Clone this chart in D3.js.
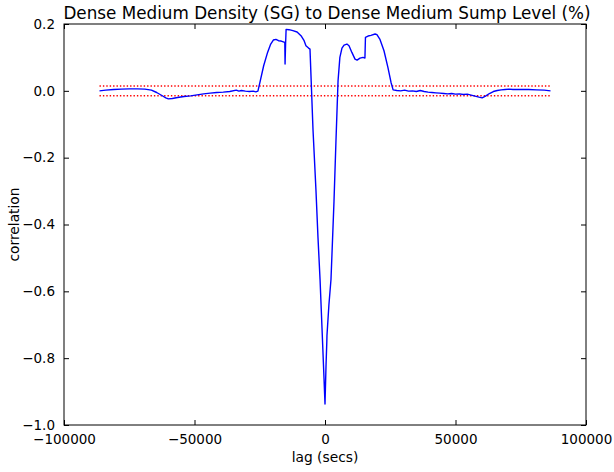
<!DOCTYPE html>
<html lang="en">
  <head>
    <meta charset="UTF-8" />
    <title>Cross correlation</title>
    <style>
      body { margin: 0; background: #fff; }
      svg text { font-family: "DejaVu Sans", sans-serif; fill: #000; }
    </style>
  </head>
  <body>
    <div class="chart"></div>
    <script src="https://d3js.org/d3.v7.min.js"></script>
    <script>
      // lag (secs) and correlation
      const lags = [
        -86400, -84000, -81000, -78000, -75000, -72000, -69000, -66500, -64500, -62500,
        -61000, -60000, -58500, -56500, -54000, -51500, -49000, -46500, -44000, -41500,
        -39000, -36500, -34000, -33000, -32000, -30500, -29000, -27500, -26500, -25700,
        -24800, -23500, -22000, -20800, -19800, -18800, -17800, -16800, -15700, -15400,
        -15300, -15100, -14900, -13800, -12300, -10700, -9200, -8000, -7300, -6300,
        -5750, -4600, -3450, -2680, -1900, -1150, -380, 0, 400, 700,
        750, 1500, 2300, 3450, 4200, 4600, 5000, 5700, 6500, 7300,
        8400, 9200, 10300, 11500, 12300, 13400, 14600, 15300, 15500, 16500,
        17600, 19200, 19900, 21000, 22600, 24100, 25300, 26100, 27500, 29000,
        30500, 32000, 33500, 35000, 36500, 38000, 39500, 41000, 42500, 44000,
        45500, 47000, 48500, 50000, 51500, 53000, 54500, 56000, 57500, 59000,
        60200, 61500, 63000, 64500, 66000, 67500, 69000, 70500, 72000, 75000,
        78000, 81000, 84000, 86400
      ];
      const corr = [
        0.000, 0.002, 0.004, 0.005, 0.006, 0.006, 0.005, 0.002, -0.005, -0.014,
        -0.021, -0.024, -0.023, -0.020, -0.017, -0.015, -0.012, -0.009, -0.007, -0.005,
        -0.004, -0.002, 0.002, -0.001, 0.001, -0.001, -0.002, -0.001, -0.003, -0.001,
        0.030, 0.075, 0.115, 0.140, 0.152, 0.154, 0.150, 0.149, 0.146, 0.145,
        0.080, 0.140, 0.184, 0.183, 0.180, 0.176, 0.165, 0.150, 0.135, 0.128,
        0.125, -0.116, -0.300, -0.440, -0.564, -0.710, -0.860, -0.937, -0.820, -0.750,
        -0.733, -0.640, -0.564, -0.330, -0.150, -0.060, 0.030, 0.100, 0.128, 0.137,
        0.140, 0.135, 0.115, 0.095, 0.092, 0.098, 0.100, 0.098, 0.160, 0.164,
        0.166, 0.170, 0.168, 0.155, 0.120, 0.070, 0.025, 0.003, 0.001, 0.000,
        0.002, -0.001, 0.000, -0.002, 0.001, -0.002, -0.004, -0.005, -0.006, -0.007,
        -0.008, -0.009, -0.008, -0.010, -0.009, -0.011, -0.010, -0.013, -0.016, -0.019,
        -0.021, -0.016, -0.008, -0.002, 0.001, 0.003, 0.004, 0.005, 0.004, 0.004,
        0.004, 0.003, 0.002, 0.000
      ];
      // confidence band (dotted red)
      const bandLags = [-86400, 86400];
      const bandLevels = [0.0145, -0.0145];

      const xTicks = [-100000, -50000, 0, 50000, 100000];
      const yTicks = [0.2, 0.0, -0.2, -0.4, -0.6, -0.8, -1.0];

      const drawChart = () => {
        const width = 614;
        const height = 472;
        const left = 64, right = 586, top = 24, bottom = 425;

        const svg = d3
          .select(".chart")
          .append("svg")
          .attr("width", width)
          .attr("height", height);

        const xScale = d3.scaleLinear().domain([-100000, 100000]).range([left, right]);
        const yScale = d3.scaleLinear().domain([-1.0, 0.2]).range([bottom, top]);

        // 虛線信賴帶
        bandLevels.forEach((lv) => {
          svg
            .append("line")
            .attr("x1", xScale(bandLags[0]))
            .attr("x2", xScale(bandLags[1]))
            .attr("y1", yScale(lv))
            .attr("y2", yScale(lv))
            .attr("stroke", "#ff0000")
            .attr("stroke-width", 1.4)
            .attr("stroke-dasharray", "1.4,2");
        });

        // 相關係數曲線
        const points = lags.map((d, i) => [d, corr[i]]);
        const line = d3
          .line()
          .x((d) => xScale(d[0]))
          .y((d) => yScale(d[1]));
        svg
          .append("path")
          .datum(points)
          .attr("d", line)
          .attr("fill", "none")
          .attr("stroke", "#0000ff")
          .attr("stroke-width", 1.4)
          .attr("stroke-linejoin", "round");

        // axes: ticks inside, on all four sides
        const fmtX = d3.format("d");
        const fmtY = d3.format(".1f");
        const tickStyle = (g) => {
          g.select(".domain").remove();
          g.selectAll("line").attr("stroke", "#000");
          g.selectAll("text").attr("font-size", 13.5).attr("font-family", "DejaVu Sans");
        };

        svg
          .append("g")
          .attr("transform", `translate(0,${bottom})`)
          .call(d3.axisBottom(xScale).tickValues(xTicks).tickFormat(fmtX).tickSizeInner(-5).tickPadding(9))
          .call(tickStyle);
        svg
          .append("g")
          .attr("transform", `translate(0,${top})`)
          .call(d3.axisTop(xScale).tickValues(xTicks).tickFormat("").tickSizeInner(-5))
          .call(tickStyle);
        svg
          .append("g")
          .attr("transform", `translate(${left},0)`)
          .call(d3.axisLeft(yScale).tickValues(yTicks).tickFormat(fmtY).tickSizeInner(-5).tickPadding(9))
          .call(tickStyle);
        svg
          .append("g")
          .attr("transform", `translate(${right},0)`)
          .call(d3.axisRight(yScale).tickValues(yTicks).tickFormat("").tickSizeInner(-5))
          .call(tickStyle);

        svg
          .append("rect")
          .attr("x", left)
          .attr("y", top)
          .attr("width", right - left)
          .attr("height", bottom - top)
          .attr("fill", "none")
          .attr("stroke", "#000")
          .attr("stroke-width", 1);

        // 標題與軸標籤
        svg
          .append("text")
          .attr("x", (left + right) / 2 + 2)
          .attr("y", 19)
          .attr("text-anchor", "middle")
          .attr("font-size", 16.8)
          .text("Dense Medium Density (SG) to Dense Medium Sump Level (%)");
        svg
          .append("text")
          .attr("x", (left + right) / 2)
          .attr("y", 462)
          .attr("text-anchor", "middle")
          .attr("font-size", 13.8)
          .text("lag (secs)");
        svg
          .append("text")
          .attr("transform", `translate(19,${(top + bottom) / 2}) rotate(-90)`)
          .attr("text-anchor", "middle")
          .attr("font-size", 13.8)
          .text("correlation");
      };

      drawChart();
    </script>
  </body>
</html>
